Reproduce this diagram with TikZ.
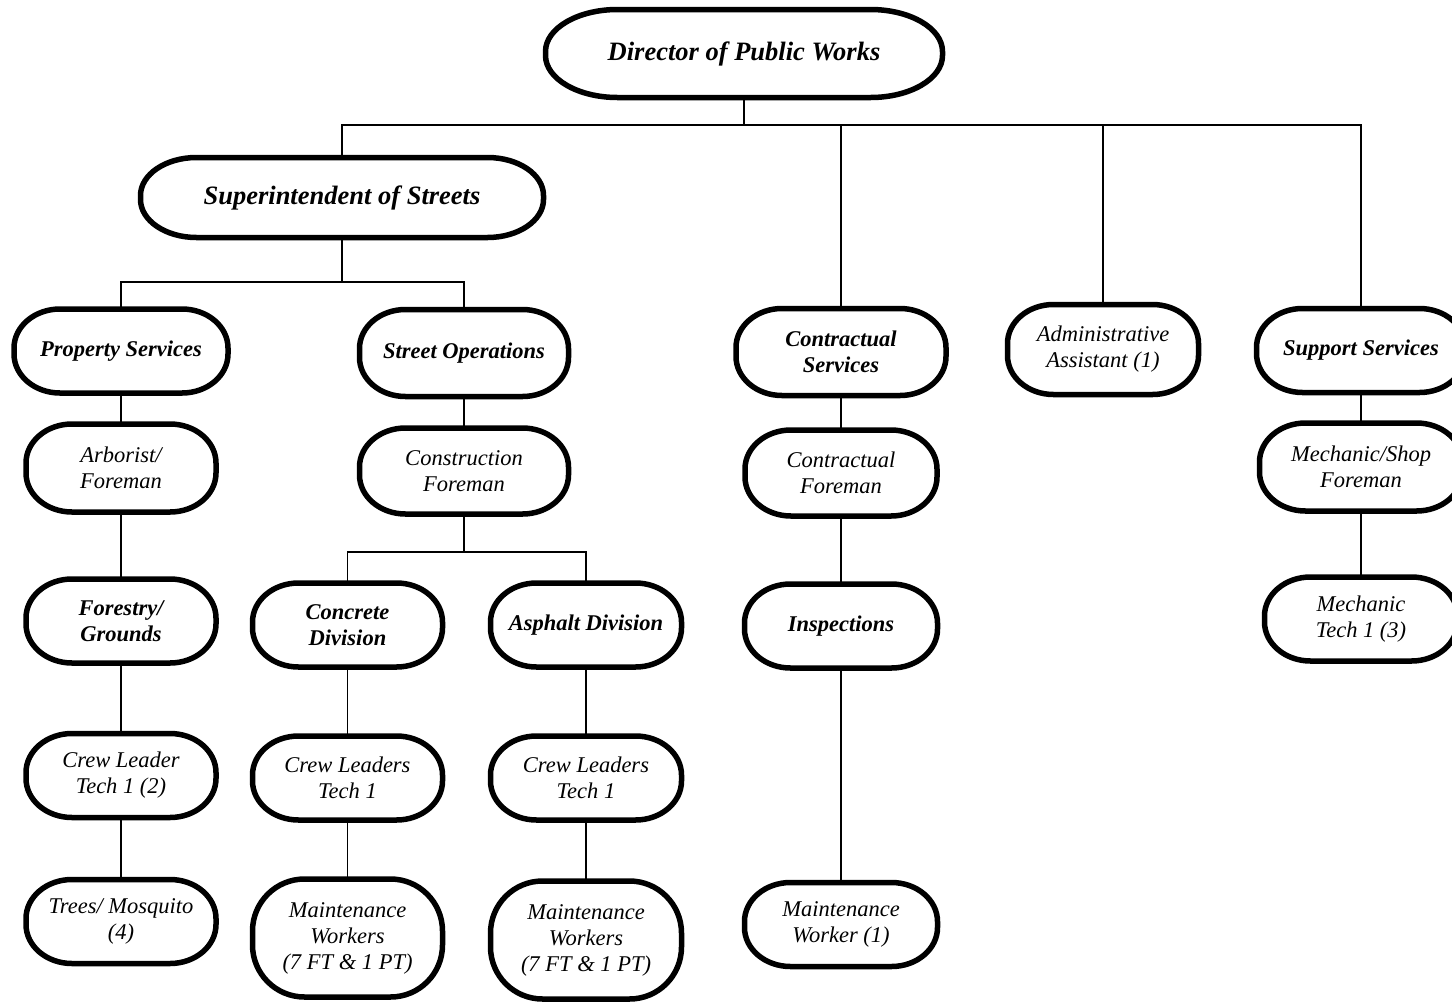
\documentclass[tikz,border=0pt]{standalone}
\usepackage{fontspec}
\setmainfont{Liberation Serif}

% Outline of a unit: a rectangle whose corners are quarter ellipses
% #1 node name, #2 horizontal corner radius, #3 vertical corner radius
\newcommand\pilloutline[3]{%
  \draw[pillline] ([xshift=#2]#1.north west) -- ([xshift=-#2]#1.north east)
    arc[start angle=90, end angle=0, x radius=#2, y radius=#3]
    -- ([yshift=#3]#1.south east)
    arc[start angle=0, end angle=-90, x radius=#2, y radius=#3]
    -- ([xshift=#2]#1.south west)
    arc[start angle=270, end angle=180, x radius=#2, y radius=#3]
    -- ([yshift=-#3]#1.north west)
    arc[start angle=180, end angle=90, x radius=#2, y radius=#3]
    -- cycle;}

\begin{document}
\begin{tikzpicture}[x=1pt, y=-1pt,
  unit/.style={inner sep=0pt, outer sep=0pt, align=center,
    font=\fontsize{22.5}{26}\selectfont\itshape},
  head/.style={unit, font=\fontsize{22.5}{26}\selectfont\bfseries\itshape},
  chief/.style={unit, font=\fontsize{26.5}{31}\selectfont\bfseries\itshape},
  pillline/.style={line width=5.5pt, line join=round},
  link/.style={line width=1.4pt}]

\useasboundingbox[fill=white] (0,0) rectangle (1452,1005);

% ---- units ----
\node[chief, minimum width=397pt, minimum height=88pt] (dir) at (744,53.5) {Director of Public Works};
\node[chief, minimum width=403pt, minimum height=80pt] (sup) at (342,197.5) {Superintendent of Streets};

\node[head, minimum width=214pt, minimum height=84pt] (prop)  at (121,351)    {Property Services};
\node[head, minimum width=209pt, minimum height=87pt] (strop) at (464,353)    {Street Operations};
\node[head, minimum width=210pt, minimum height=87pt] (cserv) at (841,352)    {Contractual\\Services};
\node[unit, minimum width=191pt, minimum height=90pt] (admin) at (1103,349.5) {Administrative\\Assistant (1)};
\node[head, minimum width=209pt, minimum height=84pt] (supp)  at (1361,350.5) {Support Services};

\node[unit, minimum width=190pt, minimum height=88pt] (arb)    at (121,468)  {Arborist/\\Foreman};
\node[unit, minimum width=209pt, minimum height=86pt] (constf) at (464,471)  {Construction\\Foreman};
\node[unit, minimum width=192pt, minimum height=86pt] (contf)  at (841,473)  {Contractual\\Foreman};
\node[unit, minimum width=203pt, minimum height=88pt] (mshop)  at (1361,467) {Mechanic/Shop\\Foreman};

\node[head, minimum width=190pt, minimum height=84pt] (forest)   at (121,621)     {Forestry/\\Grounds};
\node[head, minimum width=190pt, minimum height=84pt] (concrete) at (347.5,625)   {Concrete\\Division};
\node[head, minimum width=191pt, minimum height=84pt] (asphalt)  at (586,625)     {Asphalt Division};
\node[head, minimum width=193pt, minimum height=84pt] (insp)     at (841,626)     {Inspections};
\node[unit, minimum width=193pt, minimum height=84pt] (mtech)    at (1361,619)    {Mechanic\\Tech 1 (3)};

\node[unit, minimum width=190pt, minimum height=84pt] (crew)  at (121,775.5) {Crew Leader\\Tech 1 (2)};
\node[unit, minimum width=190pt, minimum height=84pt] (ccrew) at (347.5,778) {Crew Leaders\\Tech 1};
\node[unit, minimum width=191pt, minimum height=84pt] (acrew) at (586,778)   {Crew Leaders\\Tech 1};

\node[unit, minimum width=190pt, minimum height=84pt]  (trees)  at (121,921.5) {Trees/ Mosquito\\(4)};
\node[unit, minimum width=190pt, minimum height=118pt] (cmaint) at (347.5,938) {Maintenance\\Workers\\(7 FT \& 1 PT)};
\node[unit, minimum width=191pt, minimum height=118pt] (amaint) at (586,940)   {Maintenance\\Workers\\(7 FT \& 1 PT)};
\node[unit, minimum width=193pt, minimum height=84pt]  (mw)     at (841,924.5) {Maintenance\\Worker (1)};

% ---- connectors ----
\coordinate (topbus) at (744,125);
\coordinate (supbus) at (342,282);
\coordinate (conbus) at (464,552);

\draw[link] (dir.south) -- (topbus);
\draw[link] (sup.north) |- (topbus) -| (supp.north);
\draw[link] (topbus) -| (cserv.north);
\draw[link] (topbus) -| (admin.north);

\draw[link] (sup.south) -- (supbus);
\draw[link] (prop.north) |- (supbus) -| (strop.north);

\draw[link] (constf.south) -- (conbus);
\draw[link] (concrete.north) |- (conbus) -| (asphalt.north);

\draw[link] (prop.south) -- (arb.north);
\draw[link] (arb.south) -- (forest.north);
\draw[link] (forest.south) -- (crew.north);
\draw[link] (crew.south) -- (trees.north);

\draw[link] (strop.south) -- (constf.north);
\draw[link] (concrete.south) -- (ccrew.north);
\draw[link] (ccrew.south) -- (cmaint.north);
\draw[link] (asphalt.south) -- (acrew.north);
\draw[link] (acrew.south) -- (amaint.north);

\draw[link] (cserv.south) -- (contf.north);
\draw[link] (contf.south) -- (insp.north);
\draw[link] (insp.south) -- (mw.north);

\draw[link] (supp.south) -- (mshop.north);
\draw[link] (mshop.south) -- (mtech.north);

% ---- outlines ----
\pilloutline{dir}{72pt}{42pt}
\pilloutline{sup}{56pt}{38pt}
\foreach \u in {prop,strop,cserv,admin,supp,arb,constf,contf,mshop,
                forest,concrete,asphalt,insp,mtech,crew,ccrew,acrew,trees,mw}
  {\pilloutline{\u}{46pt}{39pt}}
\pilloutline{cmaint}{52pt}{52pt}
\pilloutline{amaint}{52pt}{52pt}

\end{tikzpicture}
\end{document}
